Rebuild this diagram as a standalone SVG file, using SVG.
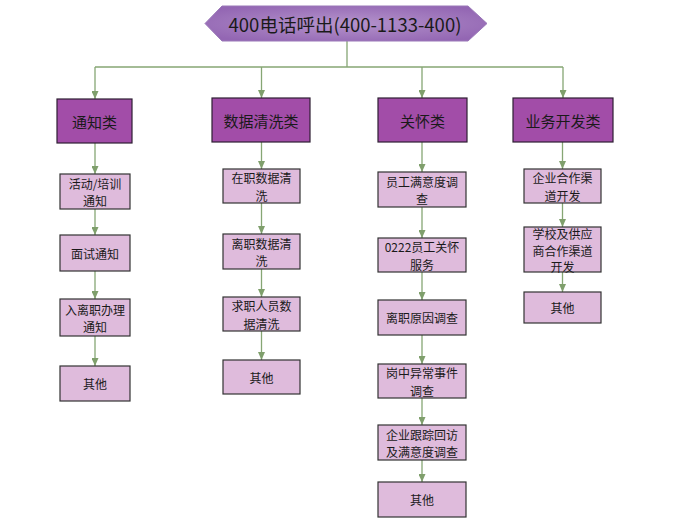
<svg xmlns="http://www.w3.org/2000/svg" width="680" height="528" viewBox="0 0 680 528">
<defs>
<radialGradient id="hg" cx="50%" cy="50%" r="60%">
<stop offset="0" stop-color="#b594cc"/>
<stop offset="1" stop-color="#9366b3"/>
</radialGradient>
<marker id="ah" viewBox="0 0 8 7" refX="8" refY="3.5" markerWidth="8" markerHeight="7" markerUnits="userSpaceOnUse" orient="auto">
<path d="M0,0 L8,3.5 L0,7 z" fill="#7f9f6c"/>
</marker>
<style>
text{font-family:"Noto Sans CJK SC","Liberation Sans",sans-serif;fill:#1a1a1a;text-anchor:middle;dominant-baseline:central}
.cat{fill:#a24da8;stroke:#2e1f33;stroke-width:1.2}
.cat-t{font-size:15px}
.leaf{fill:#dfbbdc;stroke:#333;stroke-width:1.2}
.leaf-t{font-size:12px}
.c{fill:none;stroke:#86a674;stroke-width:1.3}
.a{marker-end:url(#ah)}
</style>
</defs>
<g id="connectors">
<path class="c" d="M347,41 V67 M95,67 H563"/>
<path class="c a" d="M95,67 V99"/>
<path class="c a" d="M261.5,67 V98"/>
<path class="c a" d="M422,67 V98"/>
<path class="c a" d="M563,67 V98"/>
<path class="c a" d="M95,143 V174"/>
<path class="c a" d="M95,209 V235"/>
<path class="c a" d="M95,271 V299"/>
<path class="c a" d="M95,336 V366"/>
<path class="c a" d="M261.5,142 V169"/>
<path class="c a" d="M261.5,203 V234"/>
<path class="c a" d="M261.5,269 V297"/>
<path class="c a" d="M261.5,331 V360"/>
<path class="c a" d="M422,142 V172"/>
<path class="c a" d="M422,207 V238"/>
<path class="c a" d="M422,272 V300"/>
<path class="c a" d="M422,335 V364"/>
<path class="c a" d="M422,398 V425"/>
<path class="c a" d="M422,460 V482"/>
<path class="c a" d="M562.5,142 V169"/>
<path class="c a" d="M562.5,203 V227"/>
<path class="c a" d="M562.5,272 V292"/>
</g>
<g id="root">
<polygon points="205,23.5 222,6 468,6 487,23.5 468,41 222,41" fill="url(#hg)" stroke="#9a78b8" stroke-width="1"/>
<text x="345" y="23.5" font-size="18.5">400电话呼出(400-1133-400)</text>
</g>
<g id="cat1"><rect class="cat" x="57" y="99" width="75" height="44"/><text class="cat-t" x="94.5" y="121">通知类</text></g>
<g id="cat2"><rect class="cat" x="212" y="98" width="98" height="44"/><text class="cat-t" x="261" y="120">数据清洗类</text></g>
<g id="cat3"><rect class="cat" x="378" y="98" width="89" height="44"/><text class="cat-t" x="422.5" y="120">关怀类</text></g>
<g id="cat4"><rect class="cat" x="513" y="98" width="100" height="44"/><text class="cat-t" x="563" y="120">业务开发类</text></g>

<g id="n1a"><rect class="leaf" x="60" y="174" width="70" height="35"/><text class="leaf-t" x="95" y="182.75"><tspan x="95">活动/培训</tspan><tspan x="95" dy="17.5">通知</tspan></text></g>
<g id="n1b"><rect class="leaf" x="60" y="235" width="70" height="36"/><text class="leaf-t" x="95" y="253">面试通知</text></g>
<g id="n1c"><rect class="leaf" x="60" y="299" width="70" height="37"/><text class="leaf-t" x="95" y="308.75"><tspan x="95">入离职办理</tspan><tspan x="95" dy="17.5">通知</tspan></text></g>
<g id="n1d"><rect class="leaf" x="60" y="366" width="70" height="35"/><text class="leaf-t" x="95" y="383.5">其他</text></g>

<g id="n2a"><rect class="leaf" x="223" y="169" width="77" height="34"/><text class="leaf-t" x="261.5" y="177.25"><tspan x="261.5">在职数据清</tspan><tspan x="261.5" dy="17.5">洗</tspan></text></g>
<g id="n2b"><rect class="leaf" x="223" y="234" width="77" height="35"/><text class="leaf-t" x="261.5" y="242.75"><tspan x="261.5">离职数据清</tspan><tspan x="261.5" dy="17.5">洗</tspan></text></g>
<g id="n2c"><rect class="leaf" x="223" y="297" width="77" height="34"/><text class="leaf-t" x="261.5" y="305.25"><tspan x="261.5">求职人员数</tspan><tspan x="261.5" dy="17.5">据清洗</tspan></text></g>
<g id="n2d"><rect class="leaf" x="223" y="360" width="77" height="34"/><text class="leaf-t" x="261.5" y="377">其他</text></g>

<g id="n3a"><rect class="leaf" x="378" y="172" width="88" height="35"/><text class="leaf-t" x="422" y="180.75"><tspan x="422">员工满意度调</tspan><tspan x="422" dy="17.5">查</tspan></text></g>
<g id="n3b"><rect class="leaf" x="378" y="238" width="88" height="34"/><text class="leaf-t" x="422" y="246.25"><tspan x="422">0222员工关怀</tspan><tspan x="422" dy="17.5">服务</tspan></text></g>
<g id="n3c"><rect class="leaf" x="378" y="300" width="88" height="35"/><text class="leaf-t" x="422" y="317.5">离职原因调查</text></g>
<g id="n3d"><rect class="leaf" x="378" y="364" width="88" height="34"/><text class="leaf-t" x="422" y="372.25"><tspan x="422">岗中异常事件</tspan><tspan x="422" dy="17.5">调查</tspan></text></g>
<g id="n3e"><rect class="leaf" x="378" y="425" width="88" height="35"/><text class="leaf-t" x="422" y="433.75"><tspan x="422">企业跟踪回访</tspan><tspan x="422" dy="17.5">及满意度调查</tspan></text></g>
<g id="n3f"><rect class="leaf" x="378" y="482" width="88" height="35"/><text class="leaf-t" x="422" y="499.5">其他</text></g>

<g id="n4a"><rect class="leaf" x="524" y="169" width="77" height="34"/><text class="leaf-t" x="562.5" y="177.25"><tspan x="562.5">企业合作渠</tspan><tspan x="562.5" dy="17.5">道开发</tspan></text></g>
<g id="n4b"><rect class="leaf" x="524" y="227" width="77" height="45"/><text class="leaf-t" x="562.5" y="232.8" font-size="11.5"><tspan x="562.5">学校及供应</tspan><tspan x="562.5" dy="16.7">商合作渠道</tspan><tspan x="562.5" dy="16.7">开发</tspan></text></g>
<g id="n4c"><rect class="leaf" x="524" y="292" width="77" height="31"/><text class="leaf-t" x="562.5" y="307.5">其他</text></g>
</svg>
